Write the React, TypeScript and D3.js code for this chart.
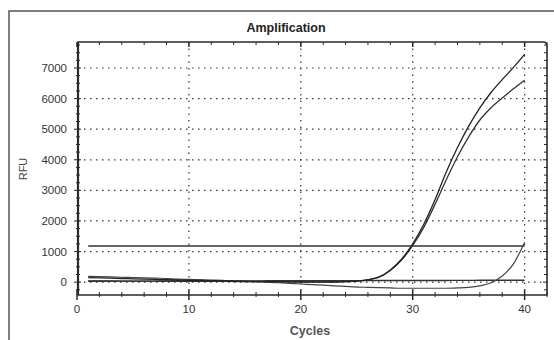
import React, { useEffect, useRef } from "react";
import * as d3 from "d3";

const cycles: number[] = d3.range(1, 41);
const curveA: number[] = [150, 140, 130, 120, 110, 100, 90, 80, 70, 60, 50, 45, 40, 35, 30, 25, 20, 15, 10, 5, 0, 0, 5, 15, 35, 80, 170, 400, 750, 1250, 1900, 2700, 3600, 4400, 5100, 5700, 6200, 6620, 7020, 7450];
const curveB: number[] = [40, 40, 38, 36, 35, 34, 32, 30, 30, 28, 26, 25, 24, 22, 20, 18, 16, 14, 12, 10, 8, 6, 8, 15, 32, 75, 165, 380, 720, 1200, 1800, 2550, 3350, 4100, 4750, 5300, 5700, 6020, 6320, 6600];
const curveC: number[] = [190, 180, 170, 160, 150, 140, 130, 120, 100, 90, 80, 70, 60, 40, 20, 10, 0, -20, -40, -60, -80, -100, -120, -140, -160, -170, -180, -190, -200, -200, -200, -200, -200, -190, -170, -120, -20, 200, 600, 1300];
const curveD: number[] = [30, 30, 32, 32, 34, 34, 35, 36, 36, 38, 38, 40, 40, 40, 42, 42, 44, 44, 45, 45, 46, 46, 48, 48, 50, 50, 52, 52, 54, 54, 55, 56, 56, 58, 58, 60, 60, 62, 62, 64];
const threshold: number[] = [1180, 1180];
const thresholdCycles: number[] = [1, 40];
const xTicks: number[] = [0, 10, 20, 30, 40];
const yTicks: number[] = [0, 1000, 2000, 3000, 4000, 5000, 6000, 7000];

export default function App() {
  const ref = useRef<SVGSVGElement>(null);
  useEffect(() => {
    const svg = d3.select(ref.current);
    svg.selectAll("*").remove();
    const L = 78, R = 547, T = 42, B = 295;
    const x = d3.scaleLinear().domain([0, 42]).range([L - 1, R]);
    const y = d3.scaleLinear().domain([-420, 7850]).range([B, T]);
    const ink = "#2a2a2a";
    const font = "Liberation Sans, Arial, sans-serif";

    // outer frame
    svg.append("path").attr("d", `M9,340 L9,11 L554,11`).attr("fill", "none").attr("stroke", "#555").attr("stroke-width", 1.5);

    // grid
    const g = svg.append("g");
    yTicks.forEach((v) => {
      g.append("line").attr("x1", L).attr("x2", R).attr("y1", y(v)).attr("y2", y(v))
        .attr("stroke", "#333").attr("stroke-width", 1.2).attr("stroke-dasharray", "1.5,4.5");
    });
    xTicks.filter((v) => v > 0).forEach((v) => {
      g.append("line").attr("x1", x(v)).attr("x2", x(v)).attr("y1", T).attr("y2", B)
        .attr("stroke", "#333").attr("stroke-width", 1.2).attr("stroke-dasharray", "1.5,5");
    });

    // minor ticks
    d3.range(0, 43, 2).forEach((v) => {
      const major = v % 10 === 0;
      g.append("line").attr("x1", x(v)).attr("x2", x(v)).attr("y1", B - (major ? 5 : 3)).attr("y2", B + (major ? 5 : 2)).attr("stroke", ink).attr("stroke-width", major ? 1.5 : 1);
      g.append("line").attr("x1", x(v)).attr("x2", x(v)).attr("y1", T).attr("y2", T + (major ? 5 : 3)).attr("stroke", ink).attr("stroke-width", major ? 1.5 : 1);
    });
    d3.range(-250, 7850, 250).forEach((v) => {
      const major = v % 1000 === 0;
      g.append("line").attr("x1", L - (major ? 4 : 2)).attr("x2", L + (major ? 3 : 2)).attr("y1", y(v)).attr("y2", y(v)).attr("stroke", ink).attr("stroke-width", 1);
      g.append("line").attr("x1", R - (major ? 4 : 3)).attr("x2", R).attr("y1", y(v)).attr("y2", y(v)).attr("stroke", ink).attr("stroke-width", 1);
    });

    // frame
    svg.append("path").attr("d", `M${L},${B} L${L},${T} L${R - 4},${T} Q${R},${T} ${R},${T + 4} L${R},${B} Z`)
      .attr("fill", "none").attr("stroke", ink).attr("stroke-width", 1.6);
    svg.append("line").attr("x1", L).attr("x2", L).attr("y1", T).attr("y2", B).attr("stroke", ink).attr("stroke-width", 2.2);

    // tick labels
    xTicks.forEach((v) => {
      svg.append("text").attr("x", x(v)).attr("y", B + 18).attr("text-anchor", "middle")
        .attr("font-family", font).attr("font-size", 11.5).attr("fill", "#333").text(String(v));
    });
    yTicks.forEach((v) => {
      svg.append("text").attr("x", L - 11).attr("y", y(v) + 4).attr("text-anchor", "end")
        .attr("font-family", font).attr("font-size", 11.5).attr("fill", "#333").text(String(v));
    });

    // titles
    svg.append("text").attr("x", 286).attr("y", 32).attr("text-anchor", "middle")
      .attr("font-family", font).attr("font-size", 12.5).attr("font-weight", "bold").attr("fill", "#222").text("Amplification");
    svg.append("text").attr("x", 310).attr("y", 335).attr("text-anchor", "middle")
      .attr("font-family", font).attr("font-size", 12.5).attr("font-weight", "bold").attr("fill", "#555").text("Cycles");
    svg.append("text").attr("transform", `translate(27,169) rotate(-90)`).attr("text-anchor", "middle")
      .attr("font-family", font).attr("font-size", 11).attr("fill", "#444").text("RFU");

    // curves
    const line = d3.line<[number, number]>().x((d) => x(d[0])).y((d) => y(d[1])).curve(d3.curveMonotoneX);
    const series: { vals: number[]; color: string; w: number }[] = [
      { vals: curveD, color: "#333", w: 1.4 },
      { vals: curveC, color: "#444", w: 1.2 },
      { vals: curveB, color: "#333", w: 1.3 },
      { vals: curveA, color: "#222", w: 1.3 },
    ];
    series.forEach((s) => {
      svg.append("path").attr("d", line(cycles.map((c, i) => [c, s.vals[i]] as [number, number])) || "")
        .attr("fill", "none").attr("stroke", s.color).attr("stroke-width", s.w);
    });
    svg.append("path").attr("d", line(thresholdCycles.map((c, i) => [c, threshold[i]] as [number, number])) || "")
      .attr("fill", "none").attr("stroke", "#333").attr("stroke-width", 1.4);
  }, []);
  return (
    <svg ref={ref} width={554} height={340} style={{ position: "fixed", left: 0, top: 0, background: "#fff" }} />
  );
}
